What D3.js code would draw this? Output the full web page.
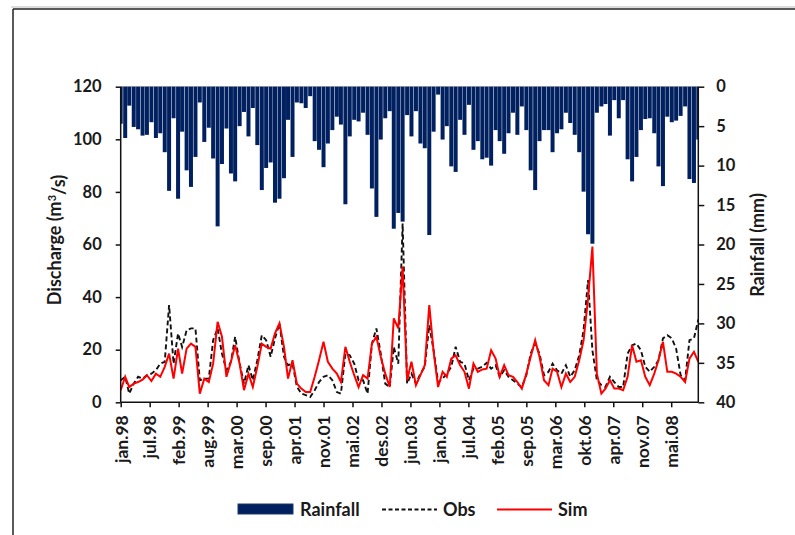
<!DOCTYPE html>
<html>
<head>
<meta charset="utf-8">
<script src="https://cdn.jsdelivr.net/npm/d3@7"></script>
<style>
  body { margin: 0; background: #fff; }
  svg text { font-family: Lato, "Open Sans", sans-serif; font-weight: bold; fill: #1a1a1a; }
</style>
</head>
<body>
<svg id="board" width="795" height="535"></svg>
<script>
// monthly series, jan 1998 .. dec 2008
let startDate = new Date(1998, 0, 1)
let months = d3.timeMonth.range(startDate, new Date(2009, 0, 1))

let rainfall = [
  4.7, 6.5, 2.4, 5.1, 5.4, 6.2, 6.1, 4.5, 6.5, 5.9, 8.3, 13.2,
  4.0, 14.2, 5.7, 10.6, 12.7, 8.9, 2.0, 7.0, 5.2, 9.1, 17.7, 9.8,
  5.3, 11.0, 12.0, 5.0, 3.2, 6.3, 2.7, 7.4, 13.1, 10.3, 9.6, 14.7,
  14.2, 11.6, 4.2, 8.9, 2.0, 2.1, 2.7, 1.2, 6.9, 8.0, 10.2, 7.2,
  5.5, 3.8, 4.8, 14.9, 6.3, 4.2, 4.4, 3.3, 6.1, 12.9, 16.5, 6.7,
  4.0, 3.1, 18.0, 16.0, 17.1, 3.6, 6.3, 3.1, 7.2, 7.8, 18.8, 5.7,
  1.0, 6.7, 5.0, 10.1, 10.8, 4.2, 6.1, 2.3, 8.0, 6.9, 9.2, 9.0,
  10.0, 5.5, 6.9, 8.5, 5.9, 3.3, 6.1, 2.5, 5.5, 10.6, 13.1, 6.9,
  5.5, 5.5, 8.3, 5.9, 5.4, 3.3, 4.6, 6.1, 8.3, 13.3, 18.7, 19.9,
  3.3, 2.5, 2.2, 6.2, 1.7, 4.0, 1.7, 9.2, 12.0, 8.9, 5.5, 4.1,
  4.0, 5.9, 10.1, 12.6, 3.8, 4.5, 4.3, 3.7, 2.5, 11.7, 12.2, 6.7
]

let obs = [
  8.4, 9.7, 3.3, 7.1, 9.7, 9.0, 10.3, 10.9, 12.2, 14.7, 15.4, 37.0,
  14.7, 26.2, 21.0, 27.4, 28.1, 28.1, 8.4, 9.0, 9.0, 23.6, 28.1, 18.5,
  12.2, 15.4, 24.9, 14.7, 7.1, 14.1, 8.4, 16.0, 25.5, 23.6, 17.3, 24.3,
  30.0, 17.3, 14.1, 14.7, 6.0, 3.3, 2.7, 2.0, 4.6, 7.7, 9.7, 10.3,
  8.4, 3.9, 3.3, 18.5, 17.9, 14.7, 8.4, 8.4, 3.3, 22.3, 28.1, 18.5,
  7.1, 5.8, 21.1, 14.7, 68.0, 7.1, 10.9, 7.1, 10.9, 13.5, 29.3, 19.8,
  7.7, 9.0, 10.9, 13.5, 21.1, 15.4, 14.7, 8.4, 12.8, 12.8, 13.5, 15.0,
  12.8, 14.1, 9.7, 12.2, 9.7, 8.4, 7.1, 5.8, 10.3, 18.5, 22.3, 18.5,
  10.3, 11.6, 14.7, 12.2, 10.9, 14.1, 9.7, 12.2, 17.9, 27.4, 46.5, 19.8,
  8.4, 6.5, 5.8, 9.7, 7.7, 5.8, 5.8, 18.5, 21.7, 22.3, 19.8, 13.5,
  11.6, 13.5, 16.0, 24.3, 25.5, 24.3, 20.4, 10.3, 8.4, 23.6, 24.3, 31.5
]

let sim = [
  4.6, 9.7, 5.8, 7.1, 7.7, 8.6, 10.3, 8.1, 10.9, 9.7, 13.5, 18.5,
  9.0, 20.4, 10.9, 20.4, 22.3, 21.1, 3.3, 9.0, 7.7, 14.7, 30.6, 24.9,
  9.7, 15.4, 21.7, 14.7, 4.6, 10.9, 5.8, 13.5, 22.3, 21.1, 20.4, 26.2,
  30.0, 21.1, 9.0, 16.0, 7.1, 5.2, 3.9, 3.9, 9.7, 16.0, 23.0, 15.4,
  12.8, 10.9, 7.7, 21.1, 15.4, 10.3, 5.8, 10.3, 9.0, 22.3, 24.9, 17.3,
  10.9, 5.8, 31.9, 28.1, 51.6, 8.4, 15.4, 6.5, 10.3, 14.1, 37.0, 19.2,
  5.8, 11.6, 9.7, 16.6, 17.9, 14.1, 11.6, 5.2, 14.7, 11.6, 12.5, 12.8,
  19.8, 16.6, 9.7, 14.1, 10.3, 9.7, 7.7, 5.2, 10.9, 17.3, 23.6, 17.3,
  8.4, 6.5, 12.8, 11.6, 5.8, 10.9, 7.7, 9.7, 16.0, 23.6, 39.5, 59.2,
  10.9, 3.3, 5.2, 8.4, 5.2, 5.2, 4.6, 9.7, 21.7, 15.4, 16.0, 9.7,
  6.5, 10.9, 16.0, 23.0, 11.6, 11.6, 10.9, 9.7, 7.7, 16.6, 19.2, 15.4
]

// date-axis labels, one every 200 days from jan.98
let tickLabels = ['jan.98', 'jul.98', 'feb.99', 'aug.99', 'mar.00', 'sep.00', 'apr.01',
  'nov.01', 'mai.02', 'des.02', 'jun.03', 'jan.04', 'jul.04', 'feb.05', 'sep.05',
  'mar.06', 'okt.06', 'apr.07', 'nov.07', 'mai.08']
let dischargeTicks = [0, 20, 40, 60, 80, 100, 120]
let rainTicks = [0, 5, 10, 15, 20, 25, 30, 35, 40]

let board = d3.select('#board')

let plotLeft = 120.7, plotRight = 698.3, plotTop = 86.7, plotBottom = 402.3

let xScale = d3.scaleTime()
  .domain([months[0], months[months.length - 1]])
  .range([plotLeft, plotRight])
let qScale = d3.scaleLinear().domain([0, 120]).range([plotBottom, plotTop])
let rScale = d3.scaleLinear().domain([0, 40]).range([plotTop, plotBottom])

// outer frame
board.append('line').attr('x1', 11).attr('y1', 7).attr('x2', 795).attr('y2', 7)
  .attr('stroke', '#bbb').attr('stroke-width', 1)
board.append('line').attr('x1', 13).attr('y1', 9).attr('x2', 795).attr('y2', 9)
  .attr('stroke', '#222').attr('stroke-width', 1.5)
board.append('line').attr('x1', 13).attr('y1', 9).attr('x2', 13).attr('y2', 535)
  .attr('stroke', '#222').attr('stroke-width', 1.5)

board.append('clipPath').attr('id', 'plotclip')
  .append('rect').attr('x', plotLeft).attr('y', plotTop - 1)
  .attr('width', plotRight - plotLeft).attr('height', plotBottom - plotTop + 2)

// plot area top border
board.append('line').attr('x1', plotLeft).attr('x2', plotRight).attr('y1', plotTop).attr('y2', plotTop)
  .attr('stroke', '#a6a6a6').attr('stroke-width', 1)

let plot = board.append('g').attr('clip-path', 'url(#plotclip)')

// rainfall bars hanging from the top
let barW = 4.0
plot.selectAll('rect.rain')
  .data(rainfall)
  .enter()
  .append('rect')
  .attr('class', 'rain')
  .attr('x', (d, i) => xScale(months[i]) - barW / 2)
  .attr('y', rScale(0))
  .attr('width', barW)
  .attr('height', (d) => rScale(d) - rScale(0))
  .attr('fill', '#002060')

let line = d3.line()
  .x((d, i) => xScale(months[i]))
  .y((d) => qScale(d))

plot.append('path')
  .datum(obs)
  .attr('d', line)
  .attr('fill', 'none')
  .attr('stroke', '#111')
  .attr('stroke-width', 1.9)
  .attr('stroke-dasharray', '5,3')

plot.append('path')
  .datum(sim)
  .attr('d', line)
  .attr('fill', 'none')
  .attr('stroke', '#ff0000')
  .attr('stroke-width', 2)

// axes
let tickDates = tickLabels.map((t, i) => d3.timeDay.offset(startDate, 200 * i))

let xAxis = board.append('g')
  .attr('transform', 'translate(0,' + plotBottom + ')')
  .call(d3.axisBottom(xScale).tickValues(tickDates).tickSize(5).tickFormat((d, i) => tickLabels[i]))

let yAxis = board.append('g')
  .attr('transform', 'translate(' + plotLeft + ',0)')
  .call(d3.axisLeft(qScale).tickValues(dischargeTicks).tickSize(5).tickPadding(14))

let y2Axis = board.append('g')
  .attr('transform', 'translate(' + plotRight + ',0)')
  .call(d3.axisRight(rScale).tickValues(rainTicks).tickSize(6).tickPadding(12))

board.selectAll('.domain, .tick line').attr('stroke', '#111').attr('stroke-width', 1.5)
xAxis.select('.domain').attr('d', 'M' + plotLeft + ',0H' + plotRight)
yAxis.select('.domain').attr('d', 'M0,' + plotBottom + 'V' + plotTop)
y2Axis.select('.domain').attr('d', 'M0,' + plotBottom + 'V' + plotTop)
board.selectAll('.tick text').style('font-size', '16.5px').attr('fill', '#1a1a1a')

xAxis.selectAll('text')
  .attr('transform', 'rotate(-90)')
  .attr('text-anchor', 'end')
  .attr('x', -13)
  .attr('y', 0)
  .attr('dy', '0.36em')
  .style('font-size', '17.5px')

// axis titles
let qTitle = board.append('text')
  .attr('transform', 'translate(55,240) rotate(-90)')
  .attr('text-anchor', 'middle')
  .attr('dy', '0.35em')
  .style('font-size', '18px')
qTitle.append('tspan').text('Discharge (m')
qTitle.append('tspan').text('3').attr('dy', '-0.5em').style('font-size', '11px')
qTitle.append('tspan').text('/s)').attr('dy', '0.5em')

board.append('text')
  .attr('transform', 'translate(758,245) rotate(-90)')
  .attr('text-anchor', 'middle')
  .attr('dy', '0.35em')
  .style('font-size', '18px')
  .text('Rainfall (mm)')

// legend
let legend = board.append('g')
legend.append('rect').attr('x', 238).attr('y', 504).attr('width', 55).attr('height', 10)
  .attr('fill', '#002060').attr('stroke', '#1f3864').attr('stroke-width', 1)
legend.append('text').attr('x', 300).attr('y', 515.5).style('font-size', '18px').text('Rainfall')
legend.append('line').attr('x1', 382).attr('x2', 437).attr('y1', 509.5).attr('y2', 509.5)
  .attr('stroke', '#111').attr('stroke-width', 1.8).attr('stroke-dasharray', '4,2.5')
legend.append('text').attr('x', 443).attr('y', 515.5).style('font-size', '18px').text('Obs')
legend.append('line').attr('x1', 497).attr('x2', 552).attr('y1', 509.5).attr('y2', 509.5)
  .attr('stroke', '#ff0000').attr('stroke-width', 2)
legend.append('text').attr('x', 558).attr('y', 515.5).style('font-size', '18px').text('Sim')
</script>
</body>
</html>
